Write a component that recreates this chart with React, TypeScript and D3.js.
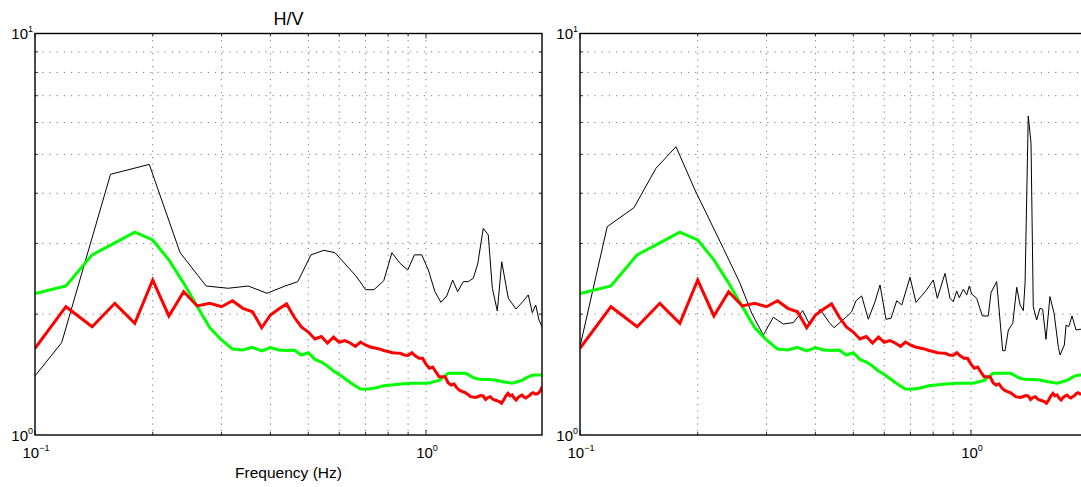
import React from 'react';
import * as d3 from 'd3';

const W = 1081;
const H = 487;

// Axis domains and tick values
const xDomain: [number, number] = [0.1, 1.98];
const yDomain: [number, number] = [1, 10];
const xMajorTicks = [0.1, 1];
const xMinorTicks = [0.2, 0.3, 0.4, 0.5, 0.6, 0.7, 0.8, 0.9];
const yMajorTicks = [1, 10];
const yMinorTicks = [2, 3, 4, 5, 6, 7, 8, 9];
const xTickLabels = [
  { v: 0.1, base: '10', exp: '\u22121' },
  { v: 1, base: '10', exp: '0' },
];
const yTickLabels = [
  { v: 1, base: '10', exp: '0' },
  { v: 10, base: '10', exp: '1' },
];

// Smoothed curves (same in both panels)
const greenFreq = [0.10, 0.12, 0.14, 0.16, 0.18, 0.20, 0.22, 0.24, 0.26, 0.28, 0.30, 0.32, 0.34, 0.36, 0.38, 0.40, 0.42, 0.44, 0.46, 0.48, 0.50, 0.52, 0.54, 0.56, 0.58, 0.60, 0.62, 0.64, 0.66, 0.68, 0.70, 0.72, 0.74, 0.76, 0.78, 0.80, 0.84, 0.88, 0.92, 0.96, 1.00, 1.02, 1.04, 1.06, 1.08, 1.10, 1.12, 1.14, 1.20, 1.26, 1.28, 1.30, 1.32, 1.36, 1.38, 1.44, 1.50, 1.56, 1.62, 1.66, 1.70, 1.74, 1.78, 1.82, 1.86, 1.90, 1.98];
const greenVal = [2.25, 2.35, 2.81, 3.01, 3.20, 3.06, 2.73, 2.39, 2.09, 1.85, 1.725, 1.637, 1.628, 1.653, 1.619, 1.650, 1.628, 1.623, 1.628, 1.582, 1.603, 1.543, 1.520, 1.485, 1.443, 1.414, 1.383, 1.352, 1.324, 1.302, 1.300, 1.304, 1.310, 1.317, 1.327, 1.330, 1.336, 1.342, 1.345, 1.345, 1.345, 1.347, 1.356, 1.361, 1.367, 1.388, 1.406, 1.424, 1.424, 1.424, 1.416, 1.403, 1.390, 1.379, 1.376, 1.374, 1.371, 1.359, 1.352, 1.345, 1.355, 1.363, 1.376, 1.394, 1.407, 1.411, 1.411];

const redFreq = [0.10, 0.12, 0.14, 0.16, 0.18, 0.20, 0.22, 0.24, 0.26, 0.28, 0.30, 0.32, 0.34, 0.36, 0.38, 0.40, 0.42, 0.44, 0.46, 0.48, 0.50, 0.52, 0.54, 0.56, 0.58, 0.60, 0.62, 0.64, 0.66, 0.68, 0.70, 0.72, 0.74, 0.76, 0.78, 0.80, 0.82, 0.84, 0.86, 0.88, 0.90, 0.92, 0.94, 0.96, 0.98, 1.00, 1.02, 1.04, 1.06, 1.08, 1.10, 1.12, 1.14, 1.16, 1.18, 1.20, 1.22, 1.24, 1.26, 1.28, 1.30, 1.32, 1.34, 1.36, 1.38, 1.40, 1.42, 1.44, 1.46, 1.48, 1.50, 1.52, 1.54, 1.56, 1.58, 1.60, 1.62, 1.64, 1.66, 1.68, 1.70, 1.72, 1.74, 1.76, 1.78, 1.80, 1.82, 1.84, 1.86, 1.88, 1.90, 1.92, 1.94, 1.96, 1.98];
const redVal = [1.644, 2.087, 1.861, 2.128, 1.897, 2.432, 1.979, 2.275, 2.096, 2.128, 2.087, 2.160, 2.068, 2.028, 1.850, 1.990, 2.06, 2.12, 1.967, 1.858, 1.805, 1.734, 1.759, 1.695, 1.754, 1.702, 1.719, 1.695, 1.662, 1.704, 1.676, 1.657, 1.647, 1.638, 1.624, 1.614, 1.603, 1.600, 1.598, 1.582, 1.578, 1.603, 1.573, 1.552, 1.552, 1.502, 1.466, 1.477, 1.435, 1.397, 1.397, 1.395, 1.348, 1.332, 1.340, 1.309, 1.291, 1.283, 1.275, 1.262, 1.246, 1.243, 1.241, 1.247, 1.254, 1.251, 1.226, 1.240, 1.246, 1.229, 1.222, 1.217, 1.212, 1.200, 1.222, 1.251, 1.270, 1.251, 1.258, 1.236, 1.222, 1.240, 1.251, 1.258, 1.243, 1.236, 1.246, 1.254, 1.269, 1.275, 1.265, 1.265, 1.272, 1.287, 1.319];

// Raw H/V, left panel
const leftBlackFreq = [0.10, 0.117, 0.156, 0.196, 0.235, 0.274, 0.312, 0.351, 0.392, 0.436, 0.470, 0.508, 0.548, 0.585, 0.662, 0.701, 0.736, 0.780, 0.818, 0.858, 0.898, 0.934, 0.975, 1.014, 1.054, 1.092, 1.13, 1.17, 1.205, 1.246, 1.283, 1.321, 1.356, 1.401, 1.443, 1.478, 1.522, 1.562, 1.624, 1.699, 1.768, 1.826, 1.870, 1.908, 1.945, 1.98];
const leftBlackVal = [1.403, 1.698, 4.46, 4.72, 2.845, 2.35, 2.32, 2.35, 2.254, 2.35, 2.41, 2.81, 2.884, 2.845, 2.489, 2.301, 2.301, 2.423, 2.845, 2.677, 2.576, 2.81, 2.81, 2.576, 2.275, 2.14, 2.22, 2.432, 2.275, 2.41, 2.41, 2.457, 2.667, 3.272, 3.149, 2.319, 2.036, 2.70, 2.19, 2.06, 2.148, 2.233, 2.017, 2.108, 1.934, 1.861];

// Raw H/V, right panel
const rightBlackFreq = [0.10, 0.1174, 0.1374, 0.1564, 0.176, 0.1968, 0.2326, 0.2566, 0.2749, 0.2943, 0.3121, 0.3311, 0.3512, 0.3712, 0.3874, 0.411, 0.4342, 0.4463, 0.479, 0.4952, 0.5081, 0.5253, 0.5462, 0.5682, 0.5852, 0.6062, 0.6243, 0.6457, 0.6651, 0.6982, 0.7233, 0.7673, 0.801, 0.8201, 0.858, 0.8838, 0.9011, 0.9193, 0.9333, 0.9556, 0.975, 0.99, 1.004, 1.034, 1.069, 1.107, 1.125, 1.163, 1.205, 1.222, 1.246, 1.279, 1.309, 1.335, 1.361, 1.375, 1.401, 1.424, 1.443, 1.472, 1.501, 1.525, 1.555, 1.592, 1.631, 1.673, 1.69, 1.733, 1.75, 1.778, 1.813, 1.856, 1.9, 1.98];
const rightBlackVal = [1.66, 3.303, 3.683, 4.616, 5.225, 4.076, 2.917, 2.387, 2.01, 1.774, 1.964, 1.89, 1.905, 2.04, 1.879, 2.057, 1.905, 1.85, 1.964, 2.028, 2.16, 2.22, 1.942, 2.148, 2.364, 1.942, 1.953, 2.16, 2.108, 2.471, 2.14, 2.288, 2.433, 2.19, 2.527, 2.19, 2.148, 2.284, 2.198, 2.306, 2.233, 2.35, 2.245, 2.19, 1.979, 1.979, 2.262, 2.41, 1.622, 1.622, 1.826, 1.897, 2.333, 2.108, 2.04, 2.395, 6.23, 5.33, 2.087, 1.934, 2.068, 2.057, 1.731, 2.211, 2.01, 1.653, 1.582, 1.676, 1.879, 1.861, 1.979, 1.826, 1.834, 1.83];

const FONT = '"Liberation Sans", Arial, Helvetica, sans-serif';
const PLOT_TOP = 33.5;
const PLOT_BOTTOM = 435;
const PLOT_WIDTH = 507;

type PanelProps = {
  id: string;
  left: number;
  blackF: number[];
  blackV: number[];
  title?: string;
  xlabel?: string;
};

function zip(f: number[], v: number[]): [number, number][] {
  return f.map((d, i) => [d, v[i]]);
}

function Panel({ id, left, blackF, blackV, title, xlabel }: PanelProps) {
  const right = left + PLOT_WIDTH;
  const x = d3.scaleLog().domain(xDomain).range([left, right]);
  const y = d3.scaleLog().domain(yDomain).range([PLOT_BOTTOM, PLOT_TOP]);
  const line = d3
    .line<[number, number]>()
    .x((d) => x(d[0]))
    .y((d) => y(d[1]));

  const gridColor = '#6a6a6a';
  const vGrid = [...xMinorTicks, 1];
  const midX = (left + right) / 2;

  return (
    <g>
      <defs>
        <clipPath id={`clip-${id}`}>
          <rect x={left} y={PLOT_TOP} width={PLOT_WIDTH} height={PLOT_BOTTOM - PLOT_TOP} />
        </clipPath>
      </defs>
      {/* grid */}
      {yMinorTicks.map((t) => (
        <line
          key={`hg${t}`}
          x1={left}
          x2={right}
          y1={y(t)}
          y2={y(t)}
          stroke={gridColor}
          strokeWidth={0.9}
          strokeDasharray="1.2,6"
        />
      ))}
      {vGrid.map((t) => (
        <line
          key={`vg${t}`}
          x1={x(t)}
          x2={x(t)}
          y1={PLOT_TOP}
          y2={PLOT_BOTTOM}
          stroke={gridColor}
          strokeWidth={0.9}
          strokeDasharray="1.2,5.3"
        />
      ))}
      {/* data */}
      <g clipPath={`url(#clip-${id})`} fill="none" strokeLinejoin="miter" strokeMiterlimit={3}>
        <path d={line(zip(blackF, blackV)) || ''} stroke="#000" strokeWidth={1} />
        <path d={line(zip(greenFreq, greenVal)) || ''} stroke="#00ff00" strokeWidth={3} />
        <path d={line(zip(redFreq, redVal)) || ''} stroke="#ff0000" strokeWidth={3} />
      </g>
      {/* ticks */}
      {xMinorTicks.map((t) => (
        <g key={`xt${t}`} stroke="#000" strokeWidth={0.8}>
          <line x1={x(t)} x2={x(t)} y1={PLOT_BOTTOM} y2={PLOT_BOTTOM - 3} />
          <line x1={x(t)} x2={x(t)} y1={PLOT_TOP} y2={PLOT_TOP + 3} />
        </g>
      ))}
      {xMajorTicks.map((t) => (
        <g key={`xT${t}`} stroke="#000" strokeWidth={0.8}>
          <line x1={x(t)} x2={x(t)} y1={PLOT_BOTTOM} y2={PLOT_BOTTOM - 5} />
          <line x1={x(t)} x2={x(t)} y1={PLOT_TOP} y2={PLOT_TOP + 5} />
        </g>
      ))}
      {yMinorTicks.map((t) => (
        <g key={`yt${t}`} stroke="#000" strokeWidth={0.8}>
          <line x1={left} x2={left + 3} y1={y(t)} y2={y(t)} />
          <line x1={right} x2={right - 3} y1={y(t)} y2={y(t)} />
        </g>
      ))}
      {/* box */}
      <rect
        x={left}
        y={PLOT_TOP}
        width={PLOT_WIDTH}
        height={PLOT_BOTTOM - PLOT_TOP}
        fill="none"
        stroke="#000"
        strokeWidth={1.4}
      />
      {/* tick labels */}
      {yTickLabels.map((l) => (
        <text
          key={`yl${l.v}`}
          x={left - 2}
          y={y(l.v) + 5.5}
          textAnchor="end"
          fontFamily={FONT}
          fontSize={15}
          fill="#000"
        >
          {l.base}
          <tspan dy={-7} fontSize={9}>
            {l.exp}
          </tspan>
        </text>
      ))}
      {xTickLabels.map((l) => (
        <text
          key={`xl${l.v}`}
          x={x(l.v) + 1}
          y={458}
          textAnchor="middle"
          fontFamily={FONT}
          fontSize={15}
          fill="#000"
        >
          {l.base}
          <tspan dy={-7} fontSize={9}>
            {l.exp}
          </tspan>
        </text>
      ))}
      {title && (
        <text x={midX} y={24.5} textAnchor="middle" fontFamily={FONT} fontSize={18} fill="#000">
          {title}
        </text>
      )}
      {xlabel && (
        <text x={midX} y={478} textAnchor="middle" fontFamily={FONT} fontSize={15.5} fill="#000">
          {xlabel}
        </text>
      )}
    </g>
  );
}

export default function App() {
  return (
    <svg
      width={W}
      height={H}
      viewBox={`0 0 ${W} ${H}`}
      style={{ position: 'absolute', left: 0, top: 0, background: '#fff' }}
    >
      <rect x={0} y={0} width={W} height={H} fill="#fff" />
      <Panel id="l" left={35} blackF={leftBlackFreq} blackV={leftBlackVal} title="H/V" xlabel="Frequency (Hz)" />
      <Panel id="r" left={580} blackF={rightBlackFreq} blackV={rightBlackVal} />
    </svg>
  );
}
